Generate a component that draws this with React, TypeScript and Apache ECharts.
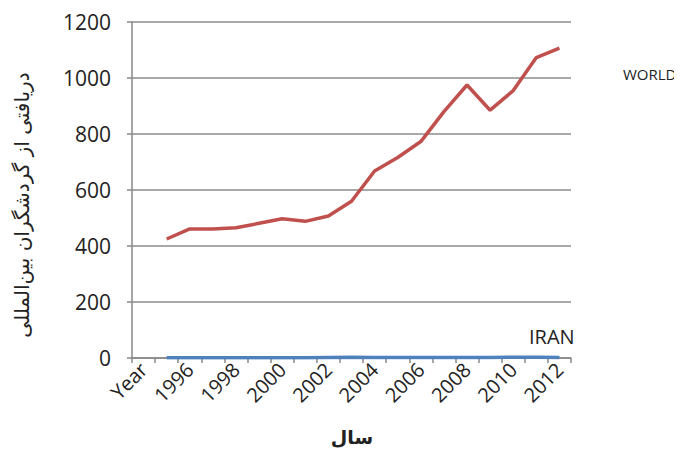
import React, { useEffect, useRef } from "react";
import * as echarts from "echarts";

const categories = ["Year", "1995", "1996", "1997", "1998", "1999", "2000", "2001", "2002", "2003", "2004", "2005", "2006", "2007", "2008", "2009", "2010", "2011", "2012"];
const worldValues = [null, 425, 461, 461, 465, 481, 497, 488, 507, 560, 668, 716, 773, 880, 975, 885, 955, 1073, 1107];
const iranValues = [null, 1, 1, 1, 1, 1, 1, 1, 2, 3, 2, 2, 2, 2, 2, 2, 3, 3, 2];
const yTicks = { min: 0, max: 1200, interval: 200 };
const yTitle = "دریافتی از گردشگران بین‌المللی";
const xTitle = "سال";

export default function App() {
  const ref = useRef<HTMLDivElement>(null);
  useEffect(() => {
    const chart = echarts.init(ref.current!, null, { renderer: "svg" });
    chart.setOption({
      animation: false,
      textStyle: { fontFamily: "Open Sans" },
      grid: { left: 132, right: 111, top: 22, bottom: 99 },
      xAxis: {
        type: "category",
        data: categories,
        boundaryGap: true,
        axisLine: { lineStyle: { color: "#888", width: 1.5 } },
        axisTick: { show: true, interval: 0, length: 5, lineStyle: { color: "#888", width: 1.5 } },
        axisLabel: { interval: 1, rotate: 45, fontSize: 20, color: "#222", margin: 8 },
        splitLine: { show: false },
      },
      yAxis: {
        type: "value",
        min: yTicks.min,
        max: yTicks.max,
        interval: yTicks.interval,
        axisLine: { show: true, lineStyle: { color: "#888", width: 1.5 } },
        axisTick: { show: true, length: 5, lineStyle: { color: "#888", width: 1.5 } },
        axisLabel: { fontSize: 21, color: "#222", margin: 21, formatter: (v: number) => String(v) },
        splitLine: { lineStyle: { color: "#8c8c8c", width: 1.5 } },
      },
      series: [
        {
          name: "WORLD",
          type: "line",
          data: worldValues,
          symbol: "none",
          lineStyle: { color: "#c0504d", width: 3.5 },
        },
        {
          name: "IRAN",
          type: "line",
          data: iranValues,
          symbol: "none",
          lineStyle: { color: "#4f81bd", width: 3.5 },
        },
      ],
      graphic: [
        { type: "text", x: 22, y: 205, rotation: Math.PI / 2, style: { text: yTitle, fontSize: 20, fill: "#222", fontFamily: "DejaVu Sans", align: "center", verticalAlign: "middle" } },
        { type: "text", x: 352, y: 437, style: { text: xTitle, fontSize: 19, fontWeight: "bold", fill: "#222", fontFamily: "DejaVu Sans", align: "center", verticalAlign: "middle" } },
        { type: "text", left: 623, top: 66, style: { text: "WORLD", fontSize: 15, fill: "#222", fontFamily: "Open Sans" } },
        { type: "text", left: 529, top: 326, style: { text: "IRAN", fontSize: 20, fill: "#222", fontFamily: "Open Sans" } },
      ],
    });
    return () => chart.dispose();
  }, []);
  return <div ref={ref} style={{ width: 682, height: 457, margin: -8, background: "#fff" }} />;
}
